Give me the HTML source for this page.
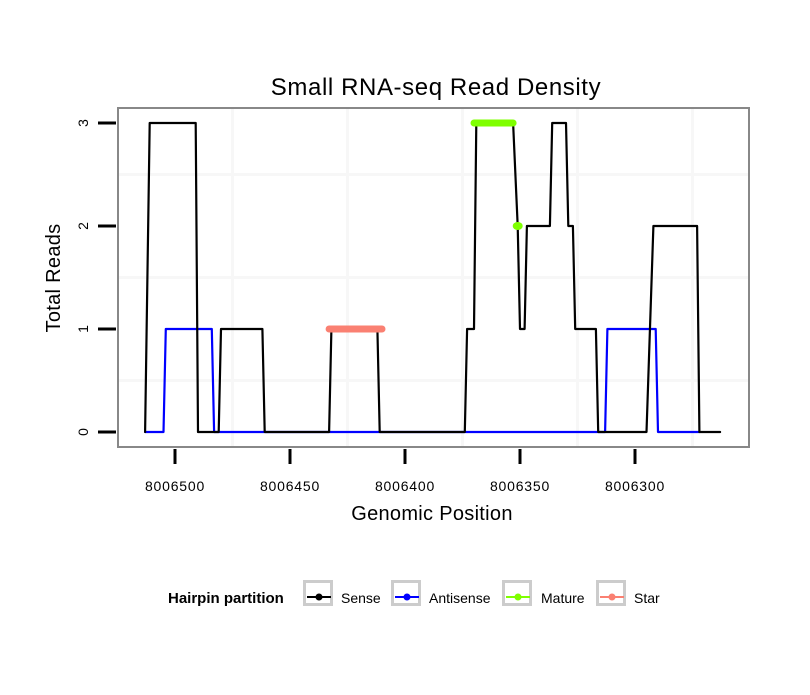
<!DOCTYPE html>
<html><head><meta charset="utf-8"><style>
body{margin:0;background:#fff}
svg{font-family:"Liberation Sans",sans-serif}
</style></head><body>
<svg id="chart" width="810" height="690" xmlns="http://www.w3.org/2000/svg">
<rect width="810" height="690" fill="#fff"/>
<text x="436" y="95" font-size="24" letter-spacing="0.6" text-anchor="middle">Small RNA-seq Read Density</text>
<g id="grid"></g>
<g id="series"></g>
<rect x="118" y="108" width="631" height="339" fill="none" stroke="#888" stroke-width="2"/>
<g id="axes"></g>
<text x="432" y="520" font-size="20" letter-spacing="0.3" text-anchor="middle">Genomic Position</text>
<text transform="translate(60,278) rotate(-90)" font-size="20" letter-spacing="0.3" text-anchor="middle">Total Reads</text>
<g>
<text x="168" y="603" font-size="15" font-weight="bold">Hairpin partition</text>
<g id="legend"></g>
</g>
</svg>
<script>
const senseX=[8006513,8006511,8006491,8006490,8006481,8006480,8006462,8006461,8006433,8006432,8006412,8006411,8006374,8006373,8006370,8006369,8006353,8006351,8006350,8006348,8006347,8006337,8006336,8006330,8006329,8006327,8006326,8006317,8006316,8006295,8006292,8006273,8006272,8006263];
const senseY=[0,3,3,0,0,1,1,0,0,1,1,0,0,1,1,3,3,2,1,1,2,2,3,3,2,2,1,1,0,0,2,2,0,0];
const antiX=[8006513,8006505,8006504,8006484,8006483,8006313,8006312,8006291,8006290,8006272];
const antiY=[0,0,1,1,0,0,1,1,0,0];
const matureX=[8006370,8006353];
const matureY=[3,3];
const maturePtX=[8006351];
const maturePtY=[2];
const starX=[8006433,8006410];
const starY=[1,1];
const xTicks=[8006500,8006450,8006400,8006350,8006300];
const yTicks=[0,1,2,3];
const legendLabels=["Sense","Antisense","Mature","Star"];
const legendColors=["#000","#0000ff","#7fff00","#fa8072"];

const NS="http://www.w3.org/2000/svg";
const sx=v=>175+(8006500-v)*2.3;
const sy=v=>432-v*103;
function mk(t,a,p){const e=document.createElementNS(NS,t);for(const k in a)e.setAttribute(k,a[k]);p.appendChild(e);return e;}
const grid=document.getElementById('grid'),ser=document.getElementById('series'),axes=document.getElementById('axes'),leg=document.getElementById('legend');
for(let i=0;i<xTicks.length+1;i++){const v=xTicks[0]+25-50*i;const x=sx(v);if(x<120||x>747)continue;
const l=mk('line',{x1:x,x2:x,y1:109,y2:446,stroke:'#f7f7f7','stroke-width':3},grid);

}
for(let i=0;i<yTicks.length+1;i++){const v=yTicks[0]-0.5+i;const y=sy(v);if(y<110||y>445)continue;
const l=mk('line',{x1:119,x2:748,y1:y,y2:y,stroke:'#f7f7f7','stroke-width':3},grid);

}
function line(xs,ys,color,w,name){const pts=xs.map((x,i)=>sx(x)+','+sy(ys[i])).join(' ');
const p=mk('polyline',{points:pts,fill:'none',stroke:color,'stroke-width':w,'stroke-linecap':'round','stroke-linejoin':'round'},ser);

}
line(antiX,antiY,'#0000ff',2.2,'antisense-line');
line(senseX,senseY,'#000',2.2,'sense-line');
line(starX,starY,'#fa8072',7,'star-segment');
line(matureX,matureY,'#7fff00',7,'mature-segment');
maturePtX.forEach((x,i)=>{const c=mk('ellipse',{cx:sx(x),cy:sy(maturePtY[i]),rx:5,ry:4,fill:'#7fff00'},ser);

});
xTicks.forEach(v=>{const x=sx(v);
const t=mk('line',{x1:x,x2:x,y1:449,y2:464,stroke:'#000','stroke-width':3},axes);


const tx=mk('text',{x:x,y:491,'font-size':14,'letter-spacing':0.8,'text-anchor':'middle'},axes);tx.textContent=v;

});
yTicks.forEach(v=>{const y=sy(v);
const t=mk('line',{x1:98,x2:116,y1:y,y2:y,stroke:'#000','stroke-width':3},axes);


const tx=mk('text',{transform:`translate(88,${y}) rotate(-90)`,'font-size':14,'text-anchor':'middle'},axes);tx.textContent=v;

});
const boxX=[303,391,502,596],textX=[341,429,541,634];
legendLabels.forEach((lab,i)=>{const g=mk('g',{},leg);


mk('rect',{x:boxX[i]+1.5,y:581.5,width:27,height:23,fill:'#fff',stroke:'#ccc','stroke-width':3},g);
mk('line',{x1:boxX[i]+4,x2:boxX[i]+28,y1:597,y2:597,stroke:legendColors[i],'stroke-width':2},g);
mk('circle',{cx:boxX[i]+16,cy:597,r:3.5,fill:legendColors[i]},g);
const t=mk('text',{x:textX[i],y:603,'font-size':14},g);t.textContent=lab;});
</script>
</body></html>
